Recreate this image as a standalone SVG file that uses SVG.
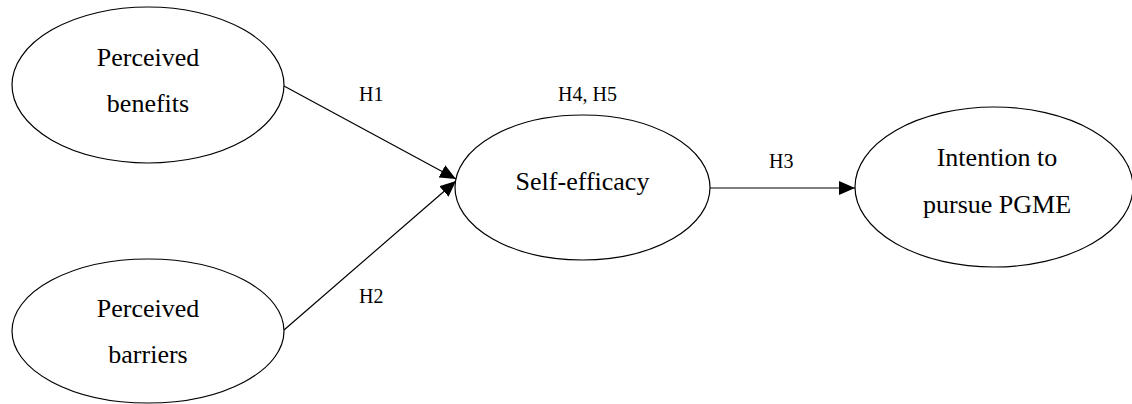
<svg xmlns="http://www.w3.org/2000/svg" width="1132" height="404" viewBox="0 0 1132 404">
<style>
.node ellipse{fill:#fff;stroke:#000;stroke-width:1.2}
.node text{font-family:"Liberation Serif","Times New Roman",serif;font-size:26px;fill:#000;text-anchor:middle}
.lbl{font-family:"Liberation Serif","Times New Roman",serif;font-size:20px;fill:#000}
.edge{stroke:#000;stroke-width:1.2;fill:none;marker-end:url(#arr)}
</style>
<defs>
<marker id="arr" markerUnits="userSpaceOnUse" markerWidth="17" markerHeight="14" refX="16" refY="7" orient="auto">
<path d="M0,0 L16,7 L0,14 z" fill="#000"/>
</marker>
</defs>
<rect width="1132" height="404" fill="#fff"/>
<g id="connectors">
<line class="edge" x1="284" y1="86" x2="456" y2="179"/>
<line class="edge" x1="284" y1="330" x2="456" y2="181"/>
<line class="edge" x1="710" y1="188" x2="855" y2="188"/>
<text class="lbl" x="359" y="101">H1</text>
<text class="lbl" x="359" y="303">H2</text>
<text class="lbl" x="769" y="168">H3</text>
<text class="lbl" x="558" y="101">H4, H5</text>
</g>
<g id="benefits" class="node">
<ellipse cx="148" cy="85" rx="136" ry="78"/>
<text x="148" y="66">Perceived</text>
<text x="148" y="112">benefits</text>
</g>
<g id="barriers" class="node">
<ellipse cx="148" cy="331" rx="136" ry="72"/>
<text x="148" y="317">Perceived</text>
<text x="148" y="363">barriers</text>
</g>
<g id="selfefficacy" class="node">
<ellipse cx="582.5" cy="187.5" rx="127.5" ry="72.5"/>
<text x="582.5" y="190">Self-efficacy</text>
</g>
<g id="intention" class="node">
<ellipse cx="994" cy="187" rx="139" ry="80"/>
<text x="997" y="166">Intention to</text>
<text x="997" y="213">pursue PGME</text>
</g>
</svg>
